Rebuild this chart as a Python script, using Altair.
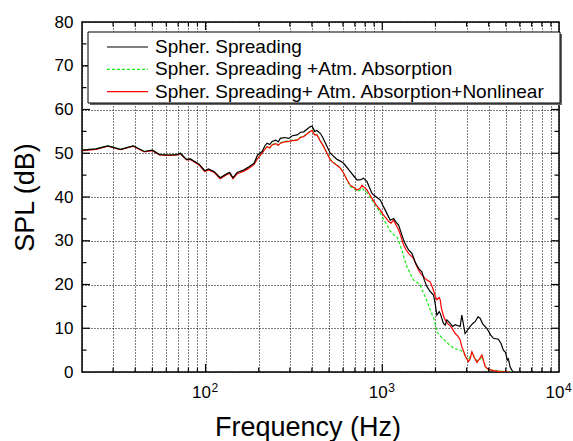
import altair as alt
import pandas as pd

FONT = "Liberation Sans"

series_names = [
    "Spher. Spreading",
    "Spher. Spreading +Atm. Absorption",
    "Spher. Spreading+ Atm. Absorption+Nonlinear",
]

black_f = [20, 24, 28, 33, 39, 45, 50, 55, 62, 69, 72, 78, 82, 92, 99, 104, 112, 121, 133, 137,
           143, 151, 165, 176, 188, 197, 209, 216, 223, 231, 238, 250, 258, 265, 280, 296, 310, 330,
           345, 359, 375, 392, 401, 414, 427, 447, 462, 477, 508, 530, 555, 580, 604, 630, 659, 690,
           719, 750, 783, 820, 850, 875, 905, 934, 975, 1010, 1040, 1075, 1110, 1159, 1200, 1237,
           1280, 1320, 1360, 1409, 1472, 1540, 1604, 1676, 1730, 1789, 1868, 1949, 1991, 2037, 2100,
           2128, 2220, 2270, 2321, 2422, 2500, 2585, 2759, 2818, 2942, 3141, 3250, 3352, 3480, 3578,
           3700, 3902, 4100, 4254, 4540, 4700, 4845, 4980, 5100, 5171, 5284, 5400, 5519]
black_db = [50.7, 51.0, 51.7, 50.9, 51.7, 50.4, 50.7, 49.7, 49.6, 49.7, 50.0, 48.6, 48.7, 47.5, 46.0,
            46.4, 45.8, 44.4, 45.4, 45.6, 44.4, 45.6, 46.2, 46.9, 47.7, 49.6, 50.4, 51.6, 52.3, 52.0,
            52.7, 53.0, 52.6, 53.4, 53.6, 53.4, 54.0, 54.2, 54.8, 54.9, 55.5, 56.1, 56.2, 55.0, 55.2,
            54.5, 53.5, 52.3, 50.0, 49.3, 48.6, 48.2, 47.7, 46.8, 45.8, 44.8, 43.9, 43.9, 44.3, 43.5,
            42.0, 40.8, 40.3, 39.9, 39.3, 38.0, 37.0, 35.8, 34.7, 35.1, 34.2, 33.6, 31.8, 30.2, 29.0,
            27.9, 27.1, 25.0, 23.7, 22.9, 21.0, 19.5, 18.4, 17.6, 15.7, 13.0, 13.8, 13.4, 11.1, 10.7,
            11.9, 11.1, 10.4, 10.8, 10.4, 13.0, 8.8, 10.4, 11.1, 11.5, 12.6, 12.3, 11.0, 10.0, 8.5,
            7.7, 7.5, 6.5, 5.0, 4.5, 2.7, 3.0, 1.2, 0.5, 0.0]

red_f = [20, 24, 28, 33, 39, 45, 50, 55, 62, 69, 72, 78, 82, 92, 99, 104, 112, 121, 133, 137,
         143, 151, 165, 176, 188, 197, 209, 216, 223, 231, 238, 250, 258, 265, 280, 296, 310, 330,
         345, 359, 375, 392, 401, 414, 427, 447, 462, 477, 508, 530, 555, 579, 604, 630, 659, 690,
         719, 750, 768, 790, 820, 850, 875, 930, 975, 1010, 1050, 1086, 1120, 1159, 1200, 1237,
         1280, 1320, 1360, 1409, 1460, 1503, 1550, 1604, 1650, 1711, 1790, 1868, 1949, 2000, 2037,
         2100, 2128, 2160, 2220, 2270, 2350, 2422, 2500, 2585, 2680, 2759, 2818, 2900, 2960, 3075,
         3140, 3215, 3300, 3431, 3550, 3662, 3750, 3820, 4000, 4254, 4700, 5284]
red_db = [50.6, 50.9, 51.6, 50.8, 51.6, 50.3, 50.6, 49.6, 49.5, 49.6, 49.9, 48.5, 48.6, 47.3, 45.8,
          46.2, 45.6, 44.2, 45.2, 45.4, 44.2, 45.3, 45.9, 46.6, 47.4, 48.8, 50.0, 50.8, 51.5, 51.2,
          51.9, 52.2, 51.8, 52.3, 52.6, 52.7, 52.9, 53.0, 53.6, 53.8, 54.4, 55.0, 55.2, 54.2, 54.2,
          52.7, 51.8, 50.7, 48.5, 47.8, 47.2, 46.6, 45.5, 44.0, 42.7, 42.2, 41.6, 42.0, 42.7, 42.2,
          41.6, 40.5, 39.7, 38.0, 37.0, 36.0, 35.2, 34.4, 34.0, 34.7, 33.5, 32.5, 30.8, 29.0, 28.0,
          27.1, 26.5, 26.0, 24.6, 23.3, 22.5, 21.8, 21.0, 20.6, 18.7, 17.2, 16.5, 17.0, 16.5, 14.6,
          12.8, 11.9, 11.0, 10.6, 9.8, 8.8, 8.2, 7.3, 5.8, 4.5, 3.5, 2.4, 3.0, 4.6, 3.5, 2.2, 3.0,
          3.9, 2.5, 1.2, 0.6, 0.3, 0.1, 0.0]

green_f = [20, 24, 28, 33, 39, 45, 50, 55, 62, 69, 72, 78, 82, 92, 99, 104, 112, 121, 133, 137,
           143, 151, 165, 176, 188, 197, 209, 216, 223, 231, 238, 250, 258, 265, 280, 296, 310, 330,
           345, 359, 375, 392, 401, 414, 427, 447, 462, 477, 508, 530, 555, 579, 604, 630, 659, 690,
           719, 750, 768, 790, 820, 850, 875, 920, 953, 1000, 1030, 1064, 1100, 1135, 1170, 1211,
           1250, 1291, 1330, 1379, 1440, 1503, 1570, 1640, 1690, 1750, 1800, 1868, 1920, 1970, 2037,
           2100, 2220, 2300, 2371, 2450, 2529, 2650, 2759, 2877, 2960, 3075, 3215, 3300, 3431, 3550,
           3662, 3780, 3902, 4100, 4445, 5000, 5519]
green_db = [50.7, 51.0, 51.7, 50.9, 51.7, 50.4, 50.7, 49.7, 49.6, 49.7, 50.0, 48.6, 48.7, 47.4, 45.9,
            46.3, 45.7, 44.3, 45.3, 45.5, 44.3, 45.4, 46.0, 46.7, 47.5, 48.9, 50.1, 50.9, 51.6, 51.3,
            52.0, 52.3, 51.9, 52.4, 52.7, 52.8, 53.0, 53.1, 53.7, 53.9, 54.5, 55.1, 55.3, 54.3, 54.3,
            52.8, 51.9, 50.8, 48.6, 47.9, 47.3, 46.7, 45.5, 44.0, 42.4, 42.0, 41.3, 41.6, 42.0, 41.5,
            41.0, 40.0, 39.3, 38.0, 37.0, 35.5, 34.5, 33.6, 32.5, 31.7, 31.3, 30.9, 29.5, 27.9, 26.0,
            24.1, 22.5, 21.0, 20.5, 19.9, 18.5, 17.2, 16.0, 14.2, 13.0, 11.9, 9.2, 8.5, 7.5, 6.9, 6.4,
            6.0, 5.4, 5.2, 5.0, 4.5, 3.5, 2.7, 4.5, 3.6, 2.6, 2.8, 3.5, 2.0, 0.8, 0.5, 0.3, 0.1, 0.0]

grid_x = [k * 10 ** d for d in (1, 2, 3) for k in range(1, 10) if k * 10 ** d >= 20] + [10000]
major_x = [100, 1000]
minor_x = [v for v in grid_x if v not in (20, 100, 1000, 10000)]
grid_y = list(range(0, 81, 10))
major_y = list(range(10, 80, 10))
minor_y = list(range(5, 80, 10))
exp_vals = [100, 1000, 10000]
exp_base = ["10", "10", "10"]
exp_pow = ["2", "3", "4"]

W, H = 477, 350
x_scale = alt.Scale(type="log", domain=[20, 10000], nice=False)
y_scale = alt.Scale(domain=[0, 80], nice=False, zero=False)

XAX = alt.Axis(values=grid_x, grid=True, gridColor="black", gridDash=[1, 2], gridWidth=1,
               gridOpacity=1, labels=False, ticks=False, domain=False,
               title="Frequency (Hz)", titleFont=FONT, titleFontSize=27,
               titleFontWeight="normal", titleColor="black", titleX=225.5, titleY=63,
               titleBaseline="alphabetic", titleAlign="center")
YAX = alt.Axis(values=grid_y, grid=True, gridColor="black", gridDash=[1, 2], gridWidth=1,
               gridOpacity=1, labelFont=FONT, labelFontSize=17, labelColor="black",
               labelPadding=9, ticks=False, domain=False, labelOverlap=False,
               title="SPL (dB)", titleFont=FONT, titleFontSize=27, titleFontWeight="normal",
               titleColor="black", titleX=-48.5, titleY=175, titleAngle=270,
               titleBaseline="alphabetic", titleAlign="center")


def X(field):
    return alt.X(field, scale=x_scale, axis=XAX, title="Frequency (Hz)")


def Y(field):
    return alt.Y(field, scale=y_scale, axis=YAX, title="SPL (dB)")


def line(f, db, color, dash=None, width=1.2):
    df = pd.DataFrame({"f": f, "db": db})
    kw = dict(color=color, strokeWidth=width, clip=True)
    if dash:
        kw["strokeDash"] = dash
    return alt.Chart(df).mark_line(**kw).encode(x=X("f:Q"), y=Y("db:Q"))


def xticks(vals, length, top):
    df = pd.DataFrame({"f": vals})
    y0, y1 = (0, length) if top else (H, H - length)
    return alt.Chart(df).mark_rule(color="black", strokeWidth=1.2).encode(
        x=X("f:Q"), y=alt.value(y0), y2=alt.value(y1))


def yticks(vals, length, right):
    df = pd.DataFrame({"db": vals})
    x0, x1 = (W, W - length) if right else (0, length)
    return alt.Chart(df).mark_rule(color="black", strokeWidth=1.2).encode(
        y=Y("db:Q"), x=alt.value(x0), x2=alt.value(x1))


one = pd.DataFrame({"a": [0]})

GREEN = "#11ee11"
green = line(green_f, green_db, GREEN, dash=[3, 2], width=1.2)
red = line(red_f, red_db, "#ff0000", width=1.2)
black = line(black_f, black_db, "#000000", width=1.2)

ticks = [xticks(major_x, 8, False), xticks(minor_x, 4.5, False),
         xticks(major_x, 8, True), xticks(minor_x, 4.5, True),
         yticks(major_y, 8, False), yticks(minor_y, 4.5, False),
         yticks(major_y, 8, True), yticks(minor_y, 4.5, True)]

lab_df = pd.DataFrame({"f": exp_vals, "base": exp_base, "pow": exp_pow})
lab_base = alt.Chart(lab_df).mark_text(font=FONT, fontSize=17, align="right", baseline="alphabetic",
                                       dx=5.5, color="black").encode(
    x=X("f:Q"), y=alt.value(375.5), text="base:N")
lab_pow = alt.Chart(lab_df).mark_text(font=FONT, fontSize=12, align="left", baseline="alphabetic",
                                      dx=6, color="black").encode(
    x=X("f:Q"), y=alt.value(369.5), text="pow:N")

leg_shadow = alt.Chart(one).mark_rect(fill="#666666").encode(
    x=alt.value(8), x2=alt.value(480), y=alt.value(12), y2=alt.value(83))
leg_box = alt.Chart(one).mark_rect(fill="white", stroke="black", strokeWidth=1).encode(
    x=alt.value(6), x2=alt.value(478), y=alt.value(10), y2=alt.value(81))

leg_rows = [25, 47.3, 69.7]
leg_colors = ["#000000", GREEN, "#ff0000"]
leg_dash = [None, [3, 2], None]
leg_layers = []
for name, yy, col, dsh in zip(series_names, leg_rows, leg_colors, leg_dash):
    kw = dict(color=col, strokeWidth=1.2)
    if dsh:
        kw["strokeDash"] = dsh
    leg_layers.append(alt.Chart(one).mark_rule(**kw).encode(
        x=alt.value(25), x2=alt.value(66), y=alt.value(yy)))
    leg_layers.append(alt.Chart(one).mark_text(font=FONT, fontSize=19, align="left",
                                               baseline="middle", color="black").encode(
        x=alt.value(73), y=alt.value(yy), text=alt.value(name)))

chart = alt.layer(
    green, red, black, *ticks, lab_base, lab_pow, leg_shadow, leg_box, *leg_layers
).properties(
    width=W, height=H,
    autosize=alt.AutoSizeParams(type="none"),
    padding={"left": 82, "top": 22, "right": 14, "bottom": 69},
).configure(font=FONT).configure_view(stroke="black", strokeWidth=1.5)

chart.save("out.html", embed_options={"renderer": "svg", "actions": False})
